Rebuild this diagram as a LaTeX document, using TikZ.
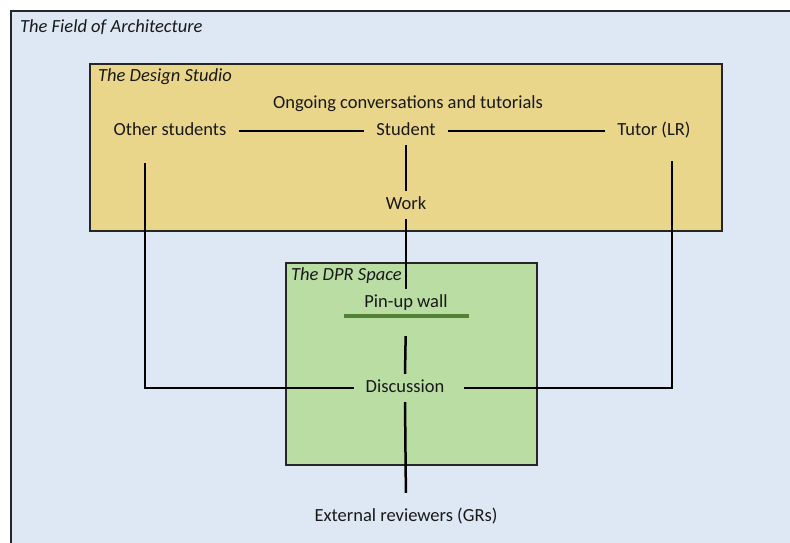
\documentclass[tikz,border=0pt]{standalone}
\usepackage{fontspec}
\setmainfont{Carlito}
\usetikzlibrary{calc, positioning}

\definecolor{fieldblue}{RGB}{221,232,244}
\definecolor{studiogold}{RGB}{233,214,139}
\definecolor{dprgreen}{RGB}{186,221,164}
\definecolor{wallgreen}{RGB}{84,130,53}

\tikzset{
  label/.style={inner xsep=12pt, inner ysep=6pt, text height=12pt, text depth=4pt},
  title/.style={anchor=west, inner sep=0pt, font=\fontsize{18.5}{21}\selectfont\itshape},
  link/.style={line width=2.5pt, black},
  area/.style={draw=black!85, line width=1.6pt}
}

\begin{document}
\begin{tikzpicture}[x=1pt, y=-1pt, font=\fontsize{18.5}{21}\selectfont, text=black!90]
\useasboundingbox (0,0) rectangle (790,543);
\clip (0,0) rectangle (790,543);

% the three areas
\draw[area, fill=fieldblue] (11,11) rectangle (805,560);
\draw[area, fill=studiogold] (90,64) rectangle (722,231);
\draw[area, fill=dprgreen] (286,263) rectangle (537,465);

\node[title] (field) at (20,27) {The Field of Architecture};
\node[title] (studio) at (98,77) {The Design Studio};
\node[title] (dpr) at (291,276) {The DPR Space};

% people and things
\node (ongoing) at (408,104) {Ongoing conversations and tutorials};
\node[label] (others) at (170,131) {Other students};
\node[label] (student) at (406,131) {Student};
\node[label] (tutor) at (654,131) {Tutor (LR)};
\node[label] (work) at (406,205) {Work};
\node[label] (pinup) at (406,303) {Pin-up wall};
\node[label] (discussion) at (405,388) {Discussion};
\node[label] (external) at (406,517) {External reviewers (GRs)};

% the wall itself
\draw[wallgreen, line width=4pt] ($(pinup.south)+(-62,-1)$) -- ($(pinup.south)+(63,-1)$);

% connections
\draw[link] (others.east) -- (student.west);
\draw[link] (student.east) -- (tutor.west);
\draw[link] (student.south) -- (work.north);
\draw[link] (work.south) -- (pinup.north);
\draw[link, shorten <=19pt] (pinup.south) -- (discussion.north);
\draw[link, shorten >=10pt] (discussion.south) -- (external.north);
\draw[link] ([xshift=-25pt, yshift=-18pt]others.south) |- (discussion.west);
\draw[link, shorten >=7pt] ([xshift=18pt, yshift=-16pt]tutor.south) |- (discussion.east);

\end{tikzpicture}
\end{document}
